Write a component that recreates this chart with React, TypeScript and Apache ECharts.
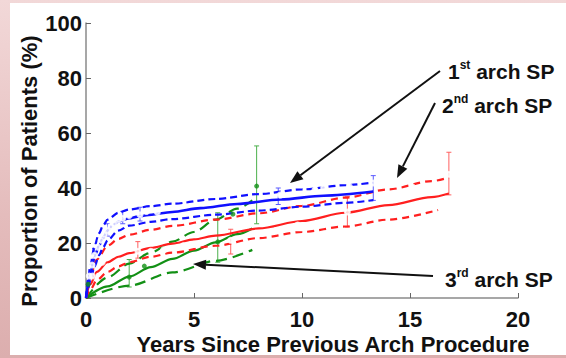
import React, { useEffect, useRef } from "react";
import * as echarts from "echarts";

const FONT = "'Liberation Sans', Arial, Helvetica, sans-serif";

// Fitted curves [years, %]
const blueFit = [[0,0],[0.1,5],[0.2,9],[0.4,15],[0.6,19],[0.8,22],[1,24.5],[1.25,26.5],[1.5,27.8],[2,29],[2.4,29.6],[2.8,30.1],[4,31.3],[5.3,32.7],[7,34.2],[9,35.8],[11,37.2],[13.3,38.7]];
const blueUpper = [[0,0],[0.1,7],[0.2,12],[0.4,19],[0.6,23.5],[0.8,26.5],[1,28.5],[1.5,31],[2,32.2],[3,33.4],[4,34.3],[6,36],[8,37.8],[10,39.5],[12,41],[13.3,42]];
const blueLower = [[0,0],[0.1,3.5],[0.2,6.5],[0.4,11.5],[0.6,15.5],[0.8,18.5],[1,21],[1.5,24.5],[2,26.3],[3,27.7],[4,28.7],[6,30.3],[8,31.8],[10,33.2],[12,34.6],[13.3,35.6]];

const redFit = [[0,0],[0.2,5],[0.5,9.5],[1,13],[1.5,15],[2,16.3],[3,18.2],[4,19.8],[5,21.3],[6,22.7],[8,25.3],[10,28],[12,31],[14,33.8],[16,36.7],[16.8,38]];
const redUpper = [[0,0],[0.2,8],[0.5,14],[1,19],[1.5,21.5],[2,23],[3,24.8],[4,26.2],[6,28.5],[8,30.8],[10,33.5],[12,36.5],[14,39.5],[16,42.5],[16.8,43.8]];
const redLower = [[0,0],[0.2,3],[0.5,6.5],[1,9.5],[1.5,11.5],[2,13],[3,15],[4,16.5],[6,19],[8,21.8],[10,24],[12,26],[14,28.5],[16.3,32]];

const greenFit = [[0,0],[1,4.2],[2,7.8],[3,11.2],[4,14.2],[5,17.2],[6,20.2],[7,23.2],[7.7,25.3]];
const greenUpper = [[0,0],[1,7.5],[2,12.5],[3,16.5],[4,20.5],[5,24],[6,28.5],[7,32.5],[7.7,35.5]];
const greenLower = [[0,0],[2,4.5],[4,9.3],[6,13.5],[7.7,17.5]];

// Observed points [years, %]
const bluePts = [[0.15,8],[0.28,12],[0.4,15.5],[0.55,18.5],[0.7,21],[0.85,23],[1.0,24.5],[1.15,26],[1.3,27],[1.5,28.5],[1.7,29],[2.0,30],[2.5,30.3],[2.8,31.5],[3.3,31.2],[9,37.5],[10.6,39.3],[11,40],[12.2,40.4],[13.3,41.8]];
const blueErr = [[0.4,13.5,18],[1.0,22.5,27],[1.7,27,31.5],[2.5,28,33],[8.9,34,40],[13.3,35.5,44.5]];
const redPts = [[0.3,8],[0.75,13],[1.25,16],[2.4,17],[3.0,17],[3.6,17.5],[4.5,19],[5,19.5],[6.7,21],[8.8,24.5],[9.8,26.5],[12.1,31.3],[15.1,40.4],[16.8,45]];
const redErr = [[2.4,14.5,20.5],[6.7,16,25],[12.1,25.8,37],[16.8,37.5,53]];
const greenPts = [[0.1,5],[2.0,7.6],[2.7,11.6],[6.1,20.4],[6.8,30.5],[7.9,40.7]];
const greenErr = [[2.0,4,14],[6.1,13,31],[7.9,27,55.3]];

const X_MIN = 0, X_MAX = 20, X_STEP = 5;
const Y_MIN = 0, Y_MAX = 100, Y_STEP = 20;

const BLUE = "#1010ff";
const RED = "#ff1f1f";
const GREEN = "#129015";

function lineSeries(data: number[][], color: string, dashed: number[] | null, width: number) {
  return {
    type: "line",
    data,
    symbol: "none",
    smooth: 0.3,
    smoothMonotone: "x",
    silent: true,
    lineStyle: { color, width, type: dashed ? dashed : "solid" },
    z: 3,
  };
}

function errSeries(data: number[][], color: string) {
  return {
    type: "custom",
    data,
    silent: true,
    z: 2,
    renderItem: (params: any, api: any) => {
      const x = api.value(0);
      const lo = api.coord([x, api.value(1)]);
      const hi = api.coord([x, api.value(2)]);
      const c = 2.5;
      const st = { stroke: color, lineWidth: 1 };
      return {
        type: "group",
        children: [
          { type: "line", shape: { x1: lo[0], y1: lo[1], x2: hi[0], y2: hi[1] }, style: st },
          { type: "line", shape: { x1: lo[0] - c, y1: lo[1], x2: lo[0] + c, y2: lo[1] }, style: st },
          { type: "line", shape: { x1: hi[0] - c, y1: hi[1], x2: hi[0] + c, y2: hi[1] }, style: st },
        ],
      };
    },
  };
}

function ptSeries(data: number[][], color: string, filled: boolean) {
  return {
    type: "scatter",
    data,
    silent: true,
    symbol: filled ? "circle" : "emptyCircle",
    symbolSize: 5,
    itemStyle: filled ? { color } : { color: "#fff", borderColor: color, borderWidth: 1 },
    z: 4,
  };
}

function arrow(x1: number, y1: number, x2: number, y2: number) {
  const a = Math.atan2(y2 - y1, x2 - x1);
  const L = 13, W = 5;
  const bx = x2 - L * Math.cos(a), by = y2 - L * Math.sin(a);
  return [
    { type: "line", shape: { x1, y1, x2: bx, y2: by }, style: { stroke: "#111", lineWidth: 2 }, z: 10 },
    {
      type: "polygon",
      shape: {
        points: [
          [x2, y2],
          [bx + W * Math.sin(a), by - W * Math.cos(a)],
          [bx - W * Math.sin(a), by + W * Math.cos(a)],
        ],
      },
      style: { fill: "#111" },
      z: 10,
    },
  ];
}

function label(left: number, midY: number, num: string, sup: string) {
  return {
    type: "text",
    x: left,
    y: midY,
    z: 10,
    style: {
      text: `{b|${num}}{s|${sup}}{b| arch SP}`,
      verticalAlign: "middle",
      fill: "#111",
      rich: {
        b: { fontSize: 21, fontWeight: "bold", fontFamily: FONT, lineHeight: 24, fill: "#111" },
        s: { fontSize: 12, fontWeight: "bold", fontFamily: FONT, lineHeight: 14, verticalAlign: "top", fill: "#111" },
      },
    },
  };
}

export default function App() {
  const ref = useRef<HTMLDivElement>(null);
  useEffect(() => {
    if (!ref.current) return;
    const chart = echarts.init(ref.current, null, { renderer: "svg" });
    const axisLine = { show: true, lineStyle: { color: "#8a8a8a", width: 1.5 } };
    const axisLabel = { color: "#111", fontSize: 22, fontWeight: "bold", fontFamily: FONT };
    chart.setOption({
      animation: false,
      backgroundColor: "transparent",
      grid: { left: 86, right: 48, top: 23, bottom: 60, containLabel: false },
      xAxis: {
        type: "value",
        min: X_MIN,
        max: X_MAX,
        interval: X_STEP,
        axisLine,
        axisTick: { show: true, inside: true, length: 5, lineStyle: { color: "#666", width: 1 } },
        splitLine: { show: false },
        axisLabel: { ...axisLabel, margin: 10 },
      },
      yAxis: {
        type: "value",
        min: Y_MIN,
        max: Y_MAX,
        interval: Y_STEP,
        axisLine,
        axisTick: { show: true, inside: true, length: 5, lineStyle: { color: "#666", width: 1 } },
        splitLine: { show: false },
        axisLabel: { ...axisLabel, margin: 4 },
      },
      series: [
        errSeries(greenErr, "#4cb04c"),
        errSeries(redErr, "#ff6060"),
        errSeries(blueErr, "#5a5aff"),
        lineSeries(greenUpper, GREEN, [11, 6], 2.2),
        lineSeries(greenLower, GREEN, [11, 6], 2.2),
        lineSeries(greenFit, GREEN, null, 2.2),
        lineSeries(redUpper, RED, [7, 5], 2.2),
        lineSeries(redLower, RED, [7, 5], 2.2),
        lineSeries(redFit, RED, null, 2.2),
        lineSeries(blueUpper, BLUE, [7, 4], 2.2),
        lineSeries(blueLower, BLUE, [7, 4], 2.2),
        lineSeries(blueFit, BLUE, null, 2.6),
        ptSeries(greenPts, GREEN, true),
        ptSeries(redPts, RED, false),
        ptSeries(bluePts, BLUE, false),
      ],
      graphic: [
        {
          type: "text",
          x: 29,
          y: 171,
          rotation: Math.PI / 2,
          style: {
            text: "Proportion of Patients (%)",
            align: "center",
            verticalAlign: "middle",
            fontSize: 22,
            fontWeight: "bold",
            fontFamily: FONT,
            fill: "#111",
          },
        },
        {
          type: "text",
          x: 333,
          y: 344,
          style: {
            text: "Years Since Previous Arch Procedure",
            align: "center",
            verticalAlign: "middle",
            fontSize: 22,
            fontWeight: "bold",
            fontFamily: FONT,
            fill: "#111",
          },
        },
        ...arrow(440, 71, 290, 183),
        ...arrow(435, 103, 397, 178),
        ...arrow(433, 276, 193, 264),
        label(448, 71, "1", "st"),
        label(442, 105, "2", "nd"),
        label(445, 279, "3", "rd"),
      ],
    });
    return () => chart.dispose();
  }, []);
  return (
    <div
      style={{
        position: "fixed",
        left: 0,
        top: 0,
        width: 566,
        height: 358,
        background: "linear-gradient(180deg, #f2d8d8 0%, #e4bcbc 60%, #dcaeae 100%)",
        overflow: "hidden",
      }}
    >
      <div style={{ position: "absolute", left: 10, top: 3, width: 556, height: 352, background: "#ffffff" }} />
      <div ref={ref} style={{ position: "absolute", left: 0, top: 0, width: 566, height: 358 }} />
    </div>
  );
}
